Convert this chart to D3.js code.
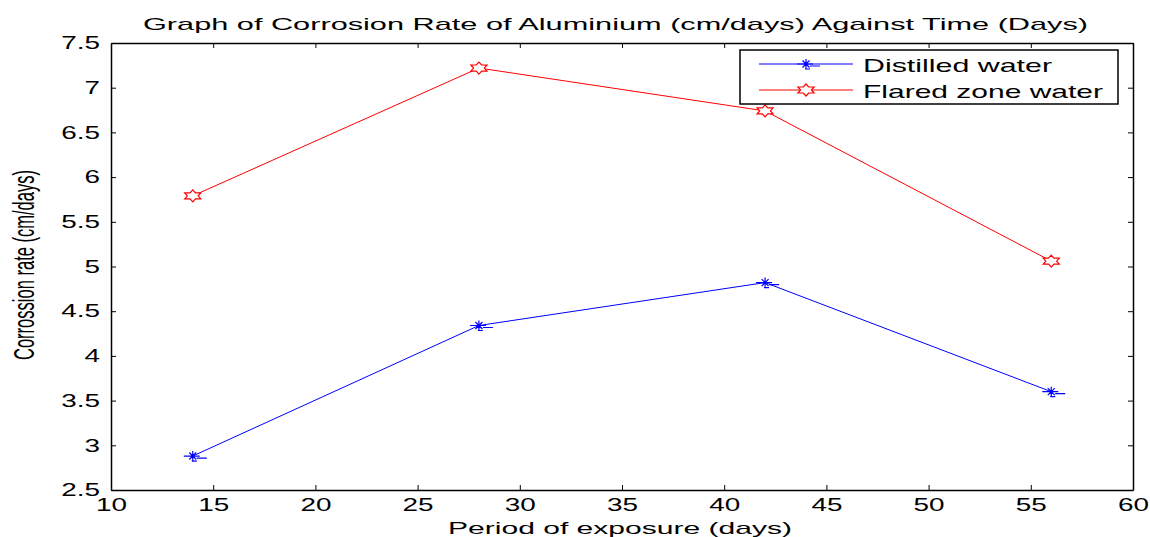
<!DOCTYPE html>
<html>
<head>
<meta charset="utf-8">
<script src="https://cdn.jsdelivr.net/npm/d3@7"></script>
<style>
  body { margin: 0; background: #fff; }
  text { font-family: "Liberation Sans", Arial, sans-serif; fill: #000; }
</style>
</head>
<body>
<svg id="chart" width="1150" height="537"></svg>
<script>
// data
const days = [14, 28, 42, 56]
const distilled = [2.88, 4.34, 4.82, 3.60]
const flared = [5.79, 7.22, 6.74, 5.06]
const xTicks = [10, 15, 20, 25, 30, 35, 40, 45, 50, 55, 60]
const yTicks = [2.5, 3, 3.5, 4, 4.5, 5, 5.5, 6, 6.5, 7, 7.5]

const series = [
  { name: "Distilled water", values: distilled, color: "#0000ff", marker: "asterisk" },
  { name: "Flared zone water", values: flared, color: "#ff0000", marker: "hexagram" },
]

const svg = d3.select("#chart")
const plotLeft = 111, plotRight = 1133, plotTop = 43, plotBottom = 490

// the original picture is stretched sideways, so text and markers get a wider scale
const stretch = 1.55

const x = d3.scaleLinear().domain([10, 60]).range([plotLeft, plotRight])
const y = d3.scaleLinear().domain([2.5, 7.5]).range([plotBottom, plotTop])

// axes, ticks point inward on all four sides
const tickLen = 5
svg.append("g")
  .attr("class", "x-axis")
  .attr("transform", `translate(0,${plotBottom})`)
  .call(d3.axisBottom(x).tickValues(xTicks).tickSizeInner(-tickLen).tickSizeOuter(0).tickPadding(8))
svg.append("g")
  .attr("transform", `translate(0,${plotTop})`)
  .call(d3.axisTop(x).tickValues(xTicks).tickSizeInner(-tickLen).tickSizeOuter(0).tickFormat(""))
svg.append("g")
  .attr("class", "y-axis")
  .attr("transform", `translate(${plotLeft},0)`)
  .call(d3.axisLeft(y).tickValues(yTicks).tickFormat(d3.format("")).tickSizeInner(-tickLen).tickSizeOuter(0))
svg.append("g")
  .attr("transform", `translate(${plotRight},0)`)
  .call(d3.axisRight(y).tickValues(yTicks).tickSizeInner(-tickLen).tickSizeOuter(0).tickFormat(""))

svg.selectAll(".domain").attr("stroke", "#000").attr("stroke-width", 1.5)
svg.selectAll(".tick line").attr("stroke", "#000")
svg.selectAll(".tick text")
  .attr("font-family", "'Liberation Sans', Arial, sans-serif")
  .attr("font-size", 18)
  .attr("fill", "#000")
svg.selectAll(".x-axis .tick text")
  .attr("transform", `scale(${stretch},1)`)
svg.selectAll(".y-axis .tick text")
  .attr("x", -11 / stretch)
  .attr("transform", `scale(${stretch},1)`)

// marker shapes
function hexagram(r) {
  let pts = []
  for (let i = 0; i < 12; i++) {
    let a = -Math.PI / 2 + i * Math.PI / 6
    let rr = i % 2 == 0 ? r : r * 0.58
    pts.push([rr * Math.cos(a) * stretch, rr * Math.sin(a)])
  }
  return "M" + pts.map(p => p.join(",")).join("L") + "Z"
}

function asterisk() {
  return "M-9,0L7,0M4,2L14,2" +
    "M-3.5,-3.5L3.5,3.5M-3.5,3.5L3.5,-3.5" +
    "M0,-5L0,5M-1,5L4,5"
}

const line = d3.line()
  .x((d, i) => x(days[i]))
  .y(d => y(d))

series.forEach(s => {
  svg.append("path")
    .attr("d", line(s.values))
    .attr("fill", "none")
    .attr("stroke", s.color)
    .attr("stroke-width", 1)

  svg.append("g").selectAll("path")
    .data(s.values)
    .enter().append("path")
      .attr("transform", (d, i) => `translate(${x(days[i])},${y(d)})`)
      .attr("d", s.marker == "hexagram" ? hexagram(6) : asterisk())
      .attr("fill", s.marker == "hexagram" ? "#fff" : "none")
      .attr("stroke", s.color)
      .attr("stroke-width", 1.2)
})

// legend
const legend = svg.append("g").attr("transform", "translate(740,50)")
legend.append("rect")
  .attr("width", 378).attr("height", 54)
  .attr("fill", "#fff").attr("stroke", "#000").attr("stroke-width", 1.5)

const legendWidths = [189, 240]
series.forEach((s, i) => {
  let row = legend.append("g").attr("transform", `translate(0,${14 + i * 26})`)
  row.append("line")
    .attr("x1", 19).attr("x2", 113)
    .attr("stroke", s.color).attr("stroke-width", 1)
  row.append("path")
    .attr("transform", "translate(66,0)")
    .attr("d", s.marker == "hexagram" ? hexagram(6) : asterisk())
    .attr("fill", s.marker == "hexagram" ? "#fff" : "none")
    .attr("stroke", s.color)
    .attr("stroke-width", 1.2)
  row.append("text")
    .attr("x", 123).attr("y", 8)
    .attr("font-size", 19)
    .attr("textLength", legendWidths[i])
    .attr("lengthAdjust", "spacingAndGlyphs")
    .text(s.name)
})

// titles
svg.append("text")
  .attr("x", 143).attr("y", 30)
  .attr("font-size", 17)
  .attr("textLength", 945)
  .attr("lengthAdjust", "spacingAndGlyphs")
  .text("Graph of Corrosion Rate of Aluminium (cm/days) Against Time (Days)")

svg.append("text")
  .attr("x", 448).attr("y", 534)
  .attr("font-size", 17)
  .attr("textLength", 344)
  .attr("lengthAdjust", "spacingAndGlyphs")
  .text("Period of exposure (days)")

svg.append("text")
  .attr("transform", "translate(34,360) rotate(-90)")
  .attr("font-size", 29)
  .attr("textLength", 190)
  .attr("lengthAdjust", "spacingAndGlyphs")
  .style("font-family", "'Liberation Sans Narrow', 'Arial Narrow', sans-serif")
  .text("Corrossion rate (cm/days)")
</script>
</body>
</html>
